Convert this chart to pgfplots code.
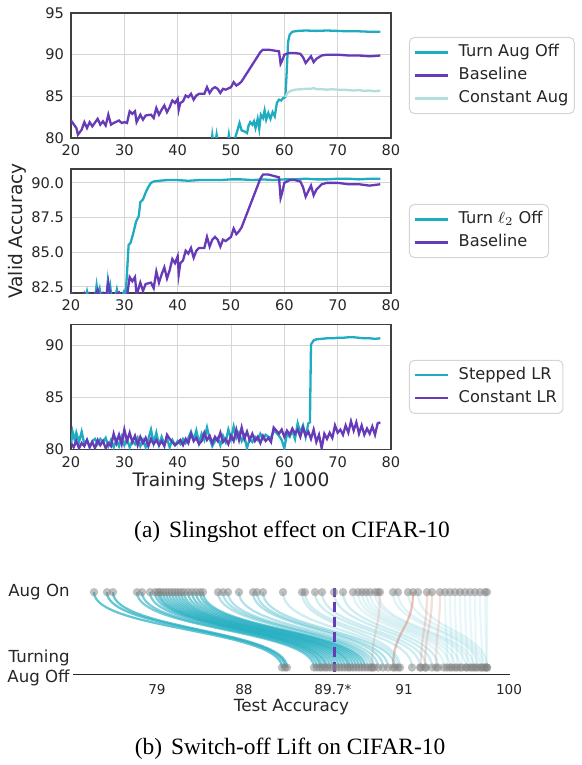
\documentclass[border=0pt]{standalone}
\usepackage{fontspec}
\setmainfont{DejaVu Sans}
\newfontfamily\capfont{Liberation Serif}
\usepackage{pgfplots}
\usepackage{pgfplotstable}
\pgfplotsset{compat=1.18}

\definecolor{cyanl}{RGB}{32,172,192}
\definecolor{purp}{RGB}{103,58,183}
\definecolor{cyanpale}{RGB}{178,223,219}
\definecolor{gridc}{RGB}{214,214,214}
\definecolor{framec}{RGB}{64,64,64}
\definecolor{legc}{RGB}{212,212,212}
\definecolor{txt}{RGB}{38,38,38}
\definecolor{dotc}{RGB}{128,128,128}
\definecolor{redl}{RGB}{226,140,122}

% baseline run (shared by panels 1 and 2)
\pgfplotstableread{
x y
20 82.1
21 81.2
21.3 80.4
22 81.0
22.5 81.9
23 81.2
23.5 81.9
24 81.4
25 82.3
25.5 81.6
26 82.0
26.5 81.5
27 82.8
27.5 81.6
28 81.8
29 82.1
29.5 81.8
30 81.9
30.5 81.8
31 83.2
31.5 82.9
32 83.2
32.3 81.9
33 82.8
33.5 82.2
34 82.7
35 82.8
35.5 82.4
36 83.6
36.5 82.8
37 83.4
37.5 83.9
38 83.1
38.5 83.7
39 84.5
39.5 84.2
40 84.7
40.2 83.4
40.5 84.2
41 84.4
41.5 85.1
42 84.9
42.5 85.3
43 84.6
43.5 85.1
44 85.3
45 85.3
45.5 86.1
46 85.4
46.5 85.9
47 86.1
47.5 85.9
48 85.4
48.5 85.9
49 85.8
50 86.1
50.5 86.7
51 86.3
51.5 86.5
52 86.8
53 87.8
54 88.8
55 89.8
55.5 90.3
56 90.6
57 90.6
58 90.5
59 90.4
59.3 88.9
59.6 89.3
60 90.0
61 90.2
62 90.2
63 90.1
63.5 89.7
64 89.0
64.5 89.4
65 89.8
65.5 89.1
66 89.5
67 89.9
68 90.0
70 90.0
72 89.9
74 89.9
76 89.8
78 89.9
}\tblbase

\pgfplotstableread{
x y
45.8 78.8
46.4 79.6
46.5 80.3
46.7 79.4
47.1 79.6
47.3 80.4
47.5 79.5
49.4 79.5
49.6 80.4
49.8 79.6
50.6 79.7
50.9 80.3
51.2 80.9
51.6 81.8
52.0 80.9
52.5 80.8
53.0 80.6
53.3 81.5
53.6 81.9
54.0 81.6
54.3 82.0
54.6 81.2
55.0 82.3
55.3 81.1
55.6 82.8
56.0 82.4
56.3 83.3
56.6 82.2
57.0 83.0
57.4 82.3
57.8 83.1
58.2 82.6
58.6 84.2
59.0 84.6
59.4 84.5
59.8 84.8
60.2 84.9
60.45 88.0
60.7 91.5
61.0 92.4
61.5 92.75
62.5 92.85
64 92.9
66 92.85
68 92.9
70 92.85
72 92.8
74 92.8
76 92.75
78 92.75
}\tblaugoff

\pgfplotstableread{
x y
60.2 84.9
60.6 85.4
61 85.6
61.5 85.7
62 85.8
63 85.85
64 85.9
65 85.9
65.5 86.0
66 85.85
67 85.85
68 85.8
69 85.85
70 85.8
71 85.8
72 85.75
73 85.7
74 85.75
75 85.65
76 85.7
77 85.6
78 85.7
}\tblconst

\pgfplotstableread{
x y
20.0 82.1
20.3 81.5
22.7 81.6
23.0 82.15
23.3 81.6
24.5 81.7
24.8 82.6
25.1 81.7
25.4 82.3
25.7 81.6
26.6 81.7
26.9 82.9
27.2 81.8
27.4 82.4
27.6 81.7
28.3 81.8
28.6 82.3
28.9 81.7
29.6 81.8
29.9 82.1
30.2 81.6
30.5 83.5
30.8 85.5
31.2 85.7
31.7 86.4
32.2 87.2
32.7 87.6
33.0 88.6
33.5 88.8
34.0 89.3
34.5 89.7
35.0 90.0
35.5 90.1
36.5 90.15
38 90.2
40 90.2
42 90.15
44 90.2
46 90.2
48 90.2
50 90.25
52 90.25
54 90.2
56 90.25
58 90.2
60 90.25
62 90.25
64 90.3
66 90.25
68 90.25
70 90.3
72 90.3
74 90.25
76 90.3
78 90.3
}\tblltwo

\pgfplotstableread{
x y
20 80.4
20.3 81.7
20.7 80.9
21 81.6
21.5 80.7
22 81.7
22.5 80.5
23 80.9
23.5 80.2
24 80.8
24.5 81.0
25 80.5
25.5 81.0
26 80.7
26.5 81.1
27 80.3
27.5 80.9
28 80.2
28.5 80.9
29 80.3
29.5 81.2
30 80.4
30.5 81.0
31 80.2
31.5 80.8
32 80.5
32.5 81.1
33 80.3
33.5 80.9
34 80.2
34.5 81.0
35 81.9
35.5 80.6
36 81.6
36.5 80.4
37 81.2
37.5 80.5
38 81.0
38.5 80.2
39 80.9
39.5 80.4
40 80.8
40.5 80.5
41 81.0
41.5 80.6
42 81.1
42.5 81.7
43 80.9
43.5 81.8
44 80.6
44.5 81.5
45 80.9
45.5 82.1
46 81.0
46.5 80.3
47 80.8
47.5 81.1
48 80.4
48.5 81.3
49 80.7
49.5 81.9
50 81.0
50.5 82.2
51 81.1
51.5 81.6
52 80.8
52.5 81.3
53 80.1
53.5 81.0
54 80.7
54.5 81.2
55 80.9
55.5 81.5
56 81.0
56.5 81.4
57 81.2
57.5 81.1
58 81.8
58.5 81.6
59 81.3
59.5 80.9
60 80.1
60.5 81.5
61 81.2
61.5 81.8
62 81.0
62.5 82.5
63 81.6
63.5 82.3
64 81.2
64.5 82.5
64.8 82.6
65 90.1
65.5 90.5
66 90.6
67 90.65
68 90.7
69 90.7
70 90.75
71 90.75
72 90.8
73 90.8
74 90.75
75 90.7
76 90.7
77 90.65
78 90.7
}\tblstep

\pgfplotstableread{
x y
20 80.6
20.5 80.2
21 80.8
21.5 80.1
22 80.6
22.5 80.3
23 80.9
23.5 80.2
24 80.7
24.5 80.1
25 80.9
25.5 80.4
26 80.8
26.5 80.1
27 80.6
27.5 80.3
28 81.5
28.5 80.6
29 81.4
29.5 80.5
30 81.9
30.5 80.8
31 81.6
31.5 80.7
32 81.3
32.5 80.4
33 81.2
33.5 80.6
34 81.1
34.5 80.3
35 81.0
35.5 80.5
36 80.9
36.5 80.4
37 80.8
37.5 80.3
38 81.4
38.5 81.0
39 80.7
39.5 80.4
40 80.6
40.5 80.9
41 80.4
41.5 81.0
42 80.6
42.5 81.5
43 80.8
43.5 81.1
44 80.5
44.5 80.8
45 81.6
45.5 80.9
46 81.3
46.5 80.6
47 81.2
47.5 80.8
48 81.6
48.5 80.7
49 81.0
49.5 80.5
50 81.3
50.5 80.8
51 81.9
51.5 80.9
52 82.1
52.5 81.0
53 81.7
53.5 80.9
54 81.5
54.5 80.8
55 81.2
55.5 80.6
56 81.3
56.5 80.8
57 81.1
57.5 80.7
58 82.1
58.5 81.8
59 81.5
59.5 81.9
60 81.2
60.5 81.8
61 81.4
61.5 82.0
62 81.5
62.5 81.9
63 81.2
63.5 82.1
64 81.3
64.5 81.7
65 81.0
65.5 81.9
66 80.7
66.5 81.4
67 80.1
67.5 81.5
68 81.0
68.5 81.6
69 81.1
69.5 82.3
70 81.6
70.5 81.9
71 81.4
71.5 82.3
72 81.6
72.5 82.7
73 81.8
73.5 82.6
74 81.5
74.5 82.3
75 81.4
75.5 82.0
76 81.5
76.5 82.2
77 81.4
77.5 82.5
78 82.6
}\tblconstlr

\pgfplotsset{
  panel/.style={
    scale only axis, anchor=south west, width=160pt,
    xmin=20, xmax=80, xtick={20,30,...,80},
    grid=major, grid style={gridc, line width=0.5pt},
    axis line style={framec, line width=0.7pt},
    major tick length=0pt,
    tick label style={font=\fontsize{7.3}{8}\selectfont, text=txt},
    /pgf/number format/assume math mode=true,
    every axis plot/.append style={line width=1.15pt},
    legend style={at={(1.056,0.5)}, anchor=west, draw=legc, line width=0.5pt,
      rounded corners=2.5pt, fill=white, font=\fontsize{8.1}{9}\selectfont,
      text=txt, inner xsep=2pt, inner ysep=2.6pt, row sep=1.65pt, column sep=4pt,
      nodes={inner sep=1pt, text height=6pt, text depth=1.85pt}},
    legend cell align=left,
    legend image code/.code={\draw[##1] (0pt,0pt) -- (16.5pt,0pt);},
  }
}

% one run: start (Aug On) -> end (Turning Aug Off), colour, opacity
\newcommand\lift[4]{\draw[#3, opacity=#4, line width=1.1pt]
  (axis cs:#1,1) .. controls (axis cs:#1,0.5) and (axis cs:#2,0.5) .. (axis cs:#2,0);}

\begin{document}
\begin{tikzpicture}
\path[use as bounding box] (0pt,0pt) rectangle (291pt,-382.5pt);

\begin{axis}[panel, at={(35.5pt,-69pt)}, height=62.5pt,
  ymin=80, ymax=95, ytick={80,85,90,95}]
\addplot[cyanl] table {\tblaugoff};
\addplot[purp] table {\tblbase};
\addplot[cyanpale] table {\tblconst};
\legend{Turn Aug Off, Baseline, Constant Aug}
\end{axis}

\begin{axis}[panel, at={(35.5pt,-146.5pt)}, height=62pt,
  ymin=82.05, ymax=91, ytick={82.5,85,87.5,90},
  yticklabel style={/pgf/number format/.cd, fixed, fixed zerofill, precision=1},
  ylabel={Valid Accuracy},
  ylabel style={at={(axis description cs:-0.16875,0.5)}, anchor=center,
    font=\fontsize{9.3}{11}\selectfont, text=txt}]
\addplot[cyanl] table {\tblltwo};
\addplot[purp] table {\tblbase};
\legend{Turn $\ell_2$ Off, Baseline}
\end{axis}

\begin{axis}[panel, at={(35.5pt,-224.65pt)}, height=62.5pt,
  ymin=80, ymax=92.05, ytick={80,85,90},
  xlabel={Training Steps / 1000},
  xlabel style={at={(axis description cs:0.5,-0.2592)}, anchor=center,
    font=\fontsize{9.3}{11}\selectfont, text=txt}]
\addplot[cyanl] table {\tblstep};
\addplot[purp] table {\tblconstlr};
\legend{Stepped LR, Constant LR}
\end{axis}

\node[font=\capfont\fontsize{11.7}{14}\selectfont] at (146pt,-266pt)
  {(a)\hspace{4.5pt}Slingshot effect on CIFAR-10};

\begin{axis}[at={(36.5pt,-337.15pt)}, anchor=south west, scale only axis,
  width=218.5pt, height=44.85pt, clip=false,
  xmin=73, xmax=510, ymin=-0.09, ymax=1.1,
  axis x line*=bottom, axis y line*=left,
  y axis line style={draw=none}, x axis line style={line width=0.6pt, black!85},
  major tick length=0pt,
  xtick={157,244,333,404,509}, xticklabels={79,88,89.7*,91,100},
  xticklabel style={font=\fontsize{6.8}{8}\selectfont, text=txt, yshift=-1.5pt},
  ytick={0,1}, yticklabels={{Turning\\Aug Off},{Aug On}},
  yticklabel style={align=right, font=\fontsize{8.3}{10}\selectfont, text=txt,
    inner xsep=1.5pt},
  xlabel={Test Accuracy},
  xlabel style={at={(axis description cs:0.5,-0.3645)}, anchor=center,
    font=\fontsize{8.4}{10}\selectfont, text=txt}]
% almost unchanged runs
\lift{445}{447}{cyanl}{0.1}\lift{450}{452}{cyanl}{0.1}\lift{455}{457}{cyanl}{0.1}
\lift{460}{462}{cyanl}{0.1}\lift{465}{467}{cyanl}{0.1}\lift{470}{472}{cyanl}{0.1}
\lift{475}{476}{cyanl}{0.1}\lift{480}{482}{cyanl}{0.1}\lift{485}{486}{cyanl}{0.1}
\lift{487}{487}{cyanl}{0.1}
% small lift
\lift{353}{444}{cyanl}{0.14}\lift{358}{450}{cyanl}{0.14}\lift{362}{455}{cyanl}{0.14}
\lift{366}{460}{cyanl}{0.14}\lift{370}{466}{cyanl}{0.14}\lift{375}{470}{cyanl}{0.14}
\lift{378}{474}{cyanl}{0.14}\lift{393}{478}{cyanl}{0.14}\lift{398}{481}{cyanl}{0.14}
\lift{408}{484}{cyanl}{0.14}\lift{418}{487}{cyanl}{0.14}
% drops
\lift{380}{372}{redl}{0.25}\lift{413}{393}{redl}{0.55}\lift{427}{421}{redl}{0.3}
\lift{432}{425}{redl}{0.3}\lift{440}{436}{redl}{0.25}
% moderate lift
\lift{283}{398}{cyanl}{0.22}\lift{302}{400}{cyanl}{0.22}\lift{305}{412}{cyanl}{0.22}
\lift{315}{420}{cyanl}{0.22}\lift{322}{426}{cyanl}{0.22}\lift{334}{432}{cyanl}{0.22}
\lift{343}{438}{cyanl}{0.22}
\lift{218}{368}{cyanl}{0.35}\lift{223}{371}{cyanl}{0.35}\lift{228}{374}{cyanl}{0.35}
\lift{239}{378}{cyanl}{0.35}\lift{253}{383}{cyanl}{0.35}\lift{257}{388}{cyanl}{0.35}
\lift{263}{395}{cyanl}{0.35}
% large lift
\lift{137}{314}{cyanl}{0.6}\lift{142}{317}{cyanl}{0.6}\lift{150}{320}{cyanl}{0.6}
\lift{155}{322}{cyanl}{0.6}\lift{158}{325}{cyanl}{0.6}\lift{160}{327}{cyanl}{0.6}
\lift{163}{330}{cyanl}{0.6}\lift{166}{333}{cyanl}{0.6}\lift{169}{336}{cyanl}{0.6}
\lift{172}{339}{cyanl}{0.6}\lift{175}{342}{cyanl}{0.6}\lift{178}{345}{cyanl}{0.6}
\lift{181}{348}{cyanl}{0.6}\lift{184}{350}{cyanl}{0.6}\lift{188}{353}{cyanl}{0.6}
\lift{192}{356}{cyanl}{0.6}\lift{196}{359}{cyanl}{0.6}\lift{200}{362}{cyanl}{0.6}
\lift{203}{365}{cyanl}{0.6}
\lift{94}{282}{cyanl}{0.7}\lift{107}{285}{cyanl}{0.7}\lift{113}{287}{cyanl}{0.7}

\addplot[purp, line width=1.5pt, dash pattern=on 5pt off 2.5pt]
  coordinates {(334,-0.053) (334,1.053)};

\addplot[only marks, mark=*, mark size=2.1pt, dotc, fill opacity=0.5, draw opacity=0]
  coordinates {
  (94,1)(107,1)(113,1)(137,1)(142,1)(150,1)(155,1)(158,1)(160,1)(163,1)
  (166,1)(169,1)(172,1)(175,1)(178,1)(181,1)(184,1)(188,1)(192,1)(196,1)
  (200,1)(203,1)(218,1)(223,1)(228,1)(239,1)(253,1)(257,1)(263,1)(283,1)
  (302,1)(305,1)(315,1)(322,1)(334,1)(343,1)(353,1)(358,1)(362,1)(366,1)
  (370,1)(375,1)(378,1)(393,1)(398,1)(408,1)(418,1)(445,1)(450,1)(455,1)
  (460,1)(465,1)(470,1)(475,1)(480,1)(485,1)(487,1)(380,1)(413,1)(427,1)
  (432,1)(440,1)};
\addplot[only marks, mark=*, mark size=2.1pt, dotc, fill opacity=0.5, draw opacity=0]
  coordinates {
  (282,0)(285,0)(287,0)(314,0)(317,0)(320,0)(322,0)(325,0)(327,0)(330,0)
  (333,0)(336,0)(339,0)(342,0)(345,0)(348,0)(350,0)(353,0)(356,0)(359,0)
  (362,0)(365,0)(368,0)(371,0)(374,0)(378,0)(383,0)(388,0)(395,0)(398,0)
  (400,0)(412,0)(420,0)(426,0)(432,0)(438,0)(444,0)(450,0)(455,0)(460,0)
  (466,0)(470,0)(474,0)(478,0)(481,0)(484,0)(487,0)(447,0)(452,0)(457,0)
  (462,0)(467,0)(472,0)(476,0)(482,0)(486,0)(487,0)(372,0)(393,0)(421,0)
  (425,0)(436,0)};
\end{axis}

\node[font=\capfont\fontsize{11.7}{14}\selectfont] at (145pt,-374.5pt)
  {(b)\hspace{4.5pt}Switch-off Lift on CIFAR-10};
\end{tikzpicture}
\end{document}
